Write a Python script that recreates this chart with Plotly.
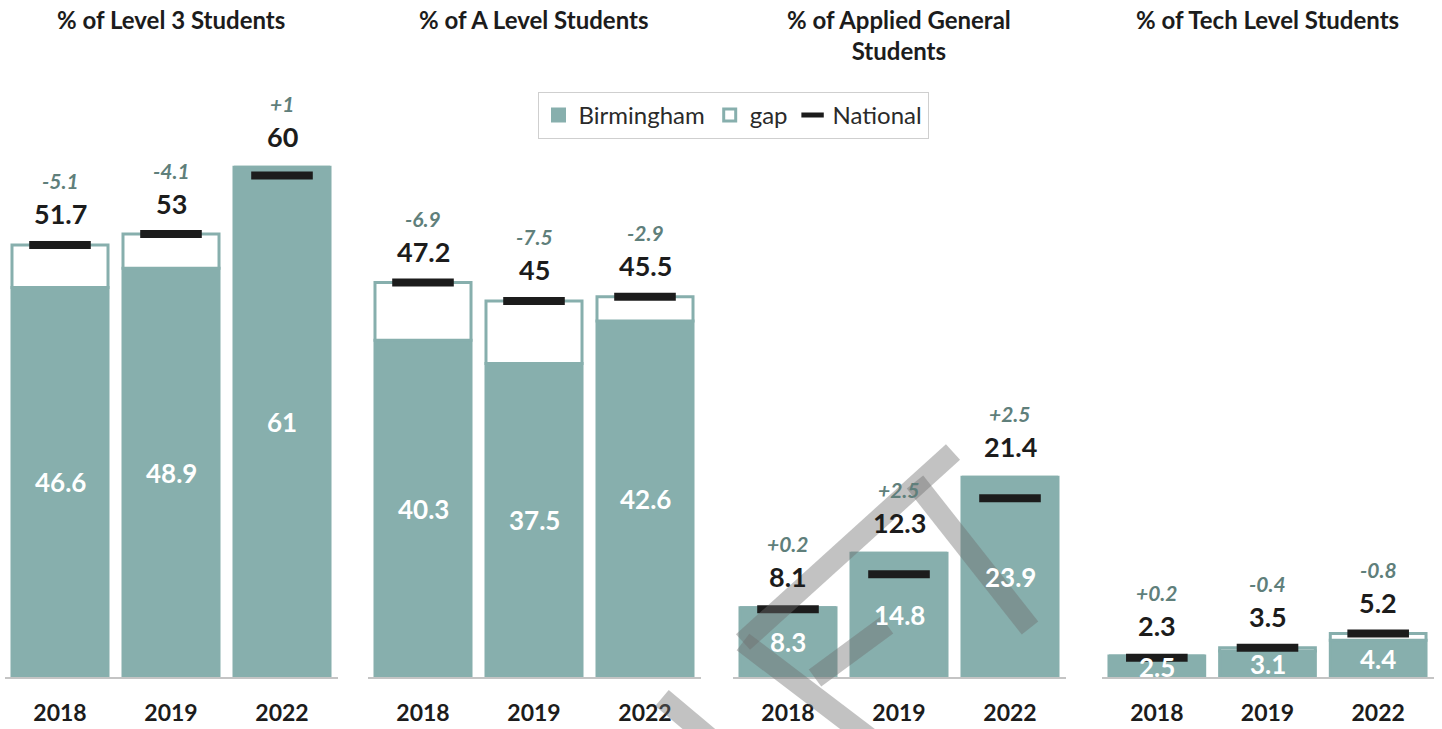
import plotly.graph_objects as go

# ---------------- data ----------------
years = ["2018", "2019", "2022"]
panel_titles = [
    "% of Level 3 Students",
    "% of A Level Students",
    "% of Applied General<br>Students",
    "% of Tech Level Students",
]
birmingham_level3 = [46.6, 48.9, 61]
national_level3 = [51.7, 53, 60]
birmingham_alevel = [40.3, 37.5, 42.6]
national_alevel = [47.2, 45, 45.5]
birmingham_applied = [8.3, 14.8, 23.9]
national_applied = [8.1, 12.3, 21.4]
birmingham_tech = [2.5, 3.1, 4.4]
national_tech = [2.3, 3.5, 5.2]

birmingham_sets = [birmingham_level3, birmingham_alevel, birmingham_applied, birmingham_tech]
national_sets = [national_level3, national_alevel, national_applied, national_tech]

# ---------------- style ----------------
W, H = 1442, 729
FONT = "Lato, Carlito, 'Open Sans', sans-serif"
TEAL = "#87afad"
DIFF_COL = "#5f7f7b"
DARK = "#1c1c1c"

# pixel layout of panels (left, right) and y-axis
panel_px = [(4.5, 337.5), (367.5, 700.5), (732.5, 1065.5), (1101.5, 1433.5)]
title_y_px = 20
axis_bottom_px = 677
axis_top_px = 92
YMAX = 70


def fmt_num(v):
    return f"{v:g}"


def fmt_diff(d):
    s = "%+.1f" % d
    if s.endswith(".0"):
        s = s[:-2]
    return s


fig = go.Figure()
annotations = []
layout_axes = {}

for i, (bvals, nvals) in enumerate(zip(birmingham_sets, national_sets)):
    k = "" if i == 0 else str(i + 1)
    xref = "x" + k
    gaps = [max(n - b, 0) for b, n in zip(bvals, nvals)]

    fig.add_trace(go.Bar(
        x=years, y=bvals, base=[0] * len(bvals), xaxis=xref, yaxis="y",
        name="Birmingham", legendgroup="b", showlegend=(i == 0),
        marker=dict(color=TEAL, line=dict(color=TEAL, width=3)),
        hoverinfo="skip",
    ))
    fig.add_trace(go.Bar(
        x=years, y=gaps, base=bvals, xaxis=xref, yaxis="y",
        name="gap", legendgroup="g", showlegend=(i == 0),
        marker=dict(color="white", line=dict(color=TEAL, width=3)),
        hoverinfo="skip",
    ))
    fig.add_trace(go.Scatter(
        x=years, y=nvals, xaxis=xref, yaxis="y", mode="markers",
        name="National", legendgroup="n", showlegend=(i == 0),
        marker=dict(symbol="line-ew", size=44, color=DARK,
                    line=dict(color=DARK, width=8)),
        hoverinfo="skip",
    ))

    for j, (b, n) in enumerate(zip(bvals, nvals)):
        top = max(b, n)
        annotations.append(dict(
            x=j, y=top, xref=xref, yref="y", text=fmt_num(n), showarrow=False,
            yanchor="middle", yshift=31,
            font=dict(family=FONT, size=27, color=DARK, weight="bold"),
        ))
        annotations.append(dict(
            x=j, y=top, xref=xref, yref="y", text=fmt_diff(round(b - n, 1)),
            showarrow=False, yanchor="middle", yshift=64,
            font=dict(family=FONT, size=21, color=DIFF_COL, style="italic", weight="bold"),
        ))
        annotations.append(dict(
            x=j, y=b / 2, xref=xref, yref="y", text=fmt_num(b), showarrow=False,
            yanchor="middle",
            font=dict(family=FONT, size=26, color="white", weight="bold"),
        ))

    l, r = panel_px[i]
    layout_axes["xaxis" + k] = dict(
        domain=[l / W, r / W], anchor="y", type="category",
        categoryorder="array", categoryarray=years, range=[-0.5, 2.5],
        showline=True, linecolor="#c4c4c4", linewidth=2,
        showgrid=False, zeroline=False, ticks="", ticklabelstandoff=14,
        tickfont=dict(family=FONT, size=23, color=DARK, weight="bold"),
        fixedrange=True,
    )
    annotations.append(dict(
        x=(l + r) / 2 / W, y=1 - title_y_px / H, xref="paper", yref="paper",
        text=panel_titles[i], showarrow=False, xanchor="center", yanchor="top",
        yshift=17, font=dict(family=FONT, size=24, color=DARK, weight="bold"),
    ))

# DRAFT watermark strokes (pixel coordinates of the overlay, not data)
watermark_px = [
    ((743, 642), (953, 452)),
    ((915, 482), (1030, 628)),
    ((743, 642), (872, 740)),
    ((815, 678), (887, 625)),
    ((662, 698), (712, 740)),
]
shapes = []
for (x0, y0), (x1, y1) in watermark_px:
    shapes.append(dict(
        type="line", xref="paper", yref="paper",
        x0=x0 / W, y0=1 - y0 / H, x1=x1 / W, y1=1 - y1 / H,
        line=dict(color="rgba(110,110,110,0.42)", width=21),
        layer="above",
    ))

fig.update_layout(
    width=W, height=H,
    margin=dict(l=0, r=0, t=0, b=0),
    paper_bgcolor="white", plot_bgcolor="rgba(0,0,0,0)",
    barmode="overlay", bargap=0.135,
    yaxis=dict(domain=[1 - axis_bottom_px / H, 1 - axis_top_px / H],
               range=[0, YMAX], visible=False, fixedrange=True),
    showlegend=True,
    legend=dict(
        orientation="h", x=733 / W, y=1 - 92 / H, xanchor="center", yanchor="top",
        font=dict(family=FONT, size=24, color="#2a2a2a"),
        bordercolor="#cfcfcf", borderwidth=1, bgcolor="white",
        traceorder="normal", itemclick=False, itemdoubleclick=False,
    ),
    annotations=annotations,
    shapes=shapes,
    font=dict(family=FONT),
    **layout_axes,
)

fig.write_html("out.html", config={"displayModeBar": False},
               post_script="document.body.style.margin='0';")
